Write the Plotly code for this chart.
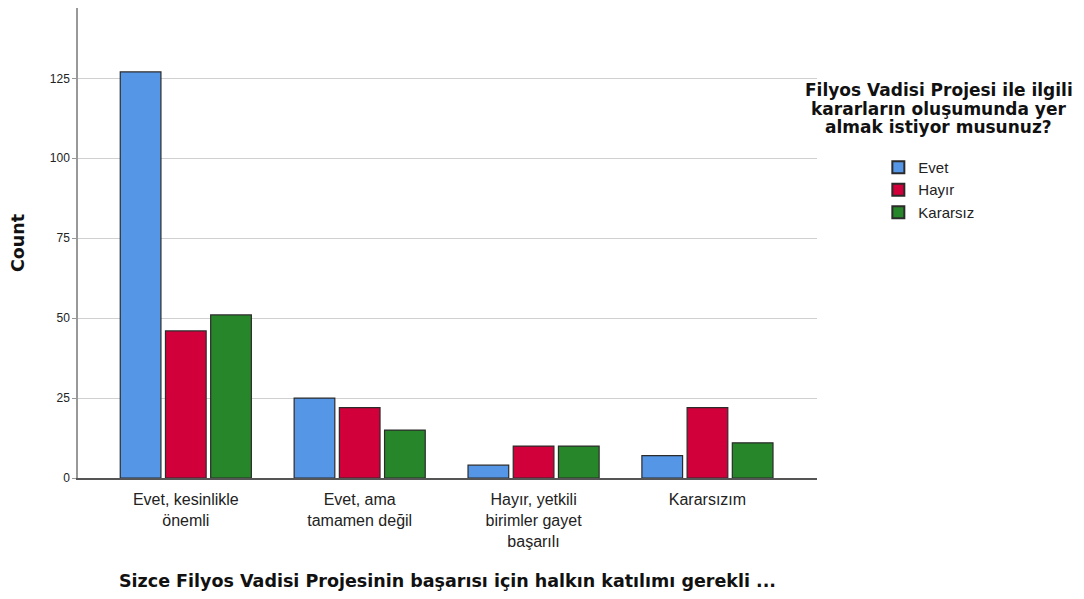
import plotly.graph_objects as go

categories = ["Evet, kesinlikle<br>önemli", "Evet, ama<br>tamamen değil", "Hayır, yetkili<br>birimler gayet<br>başarılı", "Kararsızım"]
evet = [127, 25, 4, 7]
hayir = [46, 22, 10, 22]
kararsiz = [51, 15, 10, 11]
series_names = ["Evet", "Hayır", "Kararsız"]
colors = ["#5596E6", "#D2003A", "#28862A"]
y_ticks = [0, 25, 50, 75, 100, 125]
legend_title_lines = ["Filyos Vadisi Projesi ile ilgili", "kararların oluşumunda yer", "almak istiyor musunuz?"]

fig = go.Figure()
for name, vals, col in zip(series_names, [evet, hayir, kararsiz], colors):
    fig.add_trace(go.Bar(
        x=categories, y=vals, name=name,
        marker=dict(color=col, line=dict(color="#2b2b2b", width=1.2)),
    ))

regular = "Liberation Sans, Arial, sans-serif"
bold_font = "DejaVu Sans, Liberation Sans, sans-serif"
fig.update_layout(
    width=1076, height=591,
    margin=dict(l=70, r=267, t=0, b=121),
    plot_bgcolor="white", paper_bgcolor="white",
    barmode="group", bargap=0.22, bargroupgap=0.1,
    font=dict(family=regular, color="#222"),
    showlegend=True,
    legend=dict(
        x=1.083, y=0.696, xanchor="left", yanchor="top",
        font=dict(size=15, color="#222", family=regular),
        tracegroupgap=0, itemsizing="constant",
        bgcolor="rgba(0,0,0,0)",
    ),
    xaxis=dict(
        range=[-0.62, 3.63],
        showline=True, linecolor="#555", linewidth=1.5,
        ticks="", ticklabelstandoff=6,
        tickfont=dict(size=16, color="#222", family=regular),
        title=dict(text="<b>Sizce Filyos Vadisi Projesinin başarısı için halkın katılımı gerekli ...</b>",
                   font=dict(size=17.5, color="#111", family=bold_font), standoff=26),
        showgrid=False, zeroline=False,
    ),
    yaxis=dict(
        range=[0, 147],
        tickvals=y_ticks,
        showline=True, linecolor="#999", linewidth=1.5,
        ticks="outside", ticklen=4, tickcolor="#999",
        tickfont=dict(size=12, color="#222"),
        showgrid=True, gridcolor="#d0d0d0", gridwidth=1.2,
        zeroline=False,
        title=dict(text="<b>Count</b>", font=dict(size=17.5, color="#111", family=bold_font), standoff=26),
    ),
)

for i, line in enumerate(legend_title_lines):
    fig.add_annotation(
        text="<b>" + line + "</b>",
        xref="paper", yref="paper", x=1.165, y=(478 - 90 - i * 18.5) / 470,
        xanchor="center", yanchor="middle",
        showarrow=False, align="center",
        font=dict(size=17, color="#111", family=bold_font),
    )

fig.write_html("out.html")
